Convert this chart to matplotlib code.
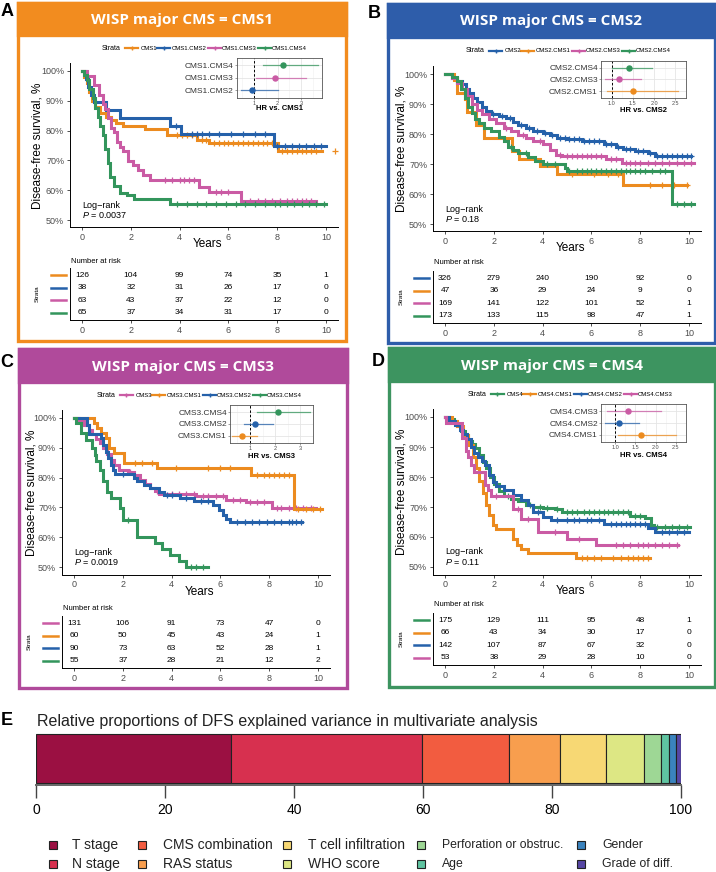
import matplotlib
matplotlib.use("Agg")
import matplotlib.pyplot as plt
from matplotlib.patches import Rectangle
from matplotlib.lines import Line2D

plt.rcParams['font.family'] = ['Liberation Sans', 'DejaVu Sans']
plt.rcParams['mathtext.fontset'] = 'custom'
plt.rcParams['mathtext.it'] = 'Liberation Sans:italic'
plt.rcParams['mathtext.rm'] = 'Liberation Sans'

# ======================= DATA =======================
risk_years = [0, 2, 4, 6, 8, 10]

# ---- Panel A: WISP major CMS = CMS1
A_strata = ['CMS1', 'CMS1.CMS2', 'CMS1.CMS3', 'CMS1.CMS4']
A_risk = [[126, 104, 99, 74, 35, 1], [38, 32, 31, 26, 17, 0],
          [63, 43, 37, 22, 12, 0], [65, 37, 34, 31, 17, 0]]
A_times = [
    [0, 0.1, 0.2, 0.3, 0.4, 0.55, 0.75, 1.0, 1.2, 1.4, 1.7, 2.6, 3.5, 4.7, 5.2, 8.05, 9.85],
    [0, 0.15, 0.25, 0.35, 0.5, 1.0, 1.55, 3.6, 4.05, 7.85, 10.0],
    [0, 0.2, 0.5, 0.7, 0.85, 0.95, 1.05, 1.2, 1.3, 1.45, 1.55, 1.7, 1.9, 2.1, 2.3, 2.5, 2.8, 4.8, 5.2, 6.5, 9.6],
    [0, 0.1, 0.2, 0.3, 0.45, 0.55, 0.65, 0.75, 0.85, 0.95, 1.05, 1.15, 1.3, 1.55, 1.85, 2.15, 3.6, 10.0],
]
A_surv = [
    [100, 98, 96, 93, 90, 88, 86, 84.5, 83.5, 82.5, 81.5, 80.5, 78.5, 77, 76, 73, 73],
    [100, 97.4, 94.7, 92.1, 89.5, 86.8, 84.2, 81.6, 78.9, 74.9, 74.9],
    [100, 98.4, 95.2, 92.1, 88.9, 87.3, 84.1, 81.0, 79.4, 76.2, 74.6, 73.0, 69.8, 68.3, 66.7, 65.1, 63.3, 61.2, 59.5, 56.3, 56.3],
    [100, 98.5, 96.9, 93.8, 90.8, 87.7, 84.6, 81.5, 78.5, 73.8, 69.2, 64.6, 61.5, 59.2, 58.5, 56.9, 55.3, 55.3],
]
A_cens = [
    [3.9, 4.1, 4.3, 4.5, 4.9, 5.1, 5.4, 5.6, 5.8, 6.0, 6.2, 6.4, 6.6, 6.8, 7.0, 7.2, 7.4, 7.6, 7.8, 8.2, 8.4, 8.6, 8.8, 9.0, 9.2, 9.4, 9.6, 10.35],
    [3.85, 4.5, 4.7, 4.9, 5.2, 5.6, 6.1, 6.6, 7.1, 7.5, 8.0, 8.3, 8.6, 8.9, 9.2, 9.5, 9.8],
    [3.4, 3.7, 4.0, 4.2, 4.4, 4.6, 5.5, 5.7, 6.0, 6.9, 7.2, 7.5, 7.8, 8.1, 8.4, 8.6, 8.8, 9.0, 9.2, 9.4],
    [3.9, 4.3, 4.7, 5.1, 5.5, 5.9, 6.3, 6.7, 7.1, 7.5, 7.9, 8.1, 8.4, 8.7, 9.0, 9.3, 9.6, 9.9],
]
A_hr_labels = ['CMS1.CMS2', 'CMS1.CMS3', 'CMS1.CMS4']
A_hr = [0.93, 1.9, 2.25]
A_hr_lo = [0.42, 1.1, 1.38]
A_hr_hi = [2.0, 3.2, 3.75]
A_p = '0.0037'

# ---- Panel B: WISP major CMS = CMS2
B_strata = ['CMS2', 'CMS2.CMS1', 'CMS2.CMS3', 'CMS2.CMS4']
B_risk = [[326, 279, 240, 190, 92, 0], [47, 36, 29, 24, 9, 0],
          [169, 141, 122, 101, 52, 1], [173, 133, 115, 98, 47, 1]]
B_times = [
    [0, 0.3, 0.5, 0.7, 0.85, 1.0, 1.15, 1.3, 1.5, 1.7, 1.9, 2.2, 2.5, 2.8, 3.0, 3.3, 3.6, 4.0, 4.3, 4.6,
     5.0, 5.6, 6.0, 6.5, 7.0, 7.3, 7.8, 8.3, 8.6, 10.1],
    [0, 0.38, 0.49, 0.8, 0.92, 1.27, 1.58, 2.73, 3.04, 3.9, 4.6, 7.3, 9.9],
    [0, 0.3, 0.5, 0.7, 0.9, 1.1, 1.3, 1.5, 1.8, 2.1, 2.4, 2.7, 3.0, 3.3, 3.6, 4.0, 4.3, 4.55, 4.8, 6.6, 7.25, 10.2],
    [0, 0.3, 0.5, 0.65, 0.8, 0.95, 1.1, 1.25, 1.4, 1.6, 1.9, 2.2, 2.4, 2.6, 2.8, 3.0, 3.4, 3.7, 4.0, 4.9,
     5.0, 9.3, 10.2],
]
B_surv = [
    [100, 98.5, 97.5, 96.5, 95, 93.5, 92, 90.5, 89, 87.5, 86.6, 86, 85.3, 84, 83, 82, 81, 80.3, 79.5, 78.8,
     78.2, 77.8, 77.5, 76.5, 75.8, 75.0, 74.3, 73.5, 72.8, 72.8],
    [100, 97.9, 93.6, 91.5, 87.2, 83.0, 78.7, 74.4, 71.6, 69.3, 66.8, 62.9, 62.9],
    [100, 98.5, 97, 95, 92.5, 90, 88, 86.5, 85, 83.5, 82, 81, 79.8, 78.5, 77.5, 76.5, 74.5, 73, 72.5, 71.5, 70.2, 70.2],
    [100, 99, 97.5, 95, 92, 89, 87, 85, 83.5, 82, 81, 79, 77.5, 75.6, 74.5, 73.5, 72.3, 71, 70, 68.6,
     67.6, 56.5, 56.5],
]
B_cens = [
    [1.95, 2.35, 2.65, 3.1, 3.45, 3.75, 4.1, 4.4, 4.7, 4.9, 5.1, 5.3, 5.5, 5.7, 5.9, 6.1, 6.3, 6.6, 6.8, 7.1,
     7.4, 7.6, 7.9, 8.1, 8.4, 8.7, 8.9, 9.1, 9.3, 9.5, 9.7, 9.9, 10.1],
    [3.7, 5.2, 6.1, 6.7, 7.1, 8.4, 8.9, 9.4, 9.9],
    [2.5, 3.2, 3.9, 4.7, 5.0, 5.2, 5.4, 5.6, 5.8, 6.0, 6.2, 6.4, 6.8, 7.0, 7.4, 7.6, 7.8, 8.0, 8.3, 8.6,
     8.9, 9.2, 9.5, 9.8, 10.1],
    [2.7, 3.3, 4.2, 4.5, 5.1, 5.4, 5.6, 5.8, 6.0, 6.2, 6.4, 6.6, 6.8, 7.0, 7.2, 7.4, 7.6, 7.8, 8.0, 8.2,
     8.5, 8.8, 9.0, 9.5, 9.8, 10.1],
]
B_hr_labels = ['CMS2.CMS1', 'CMS2.CMS3', 'CMS2.CMS4']
B_hr = [1.51, 1.18, 1.4]
B_hr_lo = [0.89, 0.84, 1.02]
B_hr_hi = [2.56, 1.69, 1.95]
B_p = '0.18'

# ---- Panel C: WISP major CMS = CMS3
C_strata = ['CMS3', 'CMS3.CMS1', 'CMS3.CMS2', 'CMS3.CMS4']
C_risk = [[131, 106, 91, 73, 47, 0], [60, 50, 45, 43, 24, 1],
          [90, 73, 63, 52, 28, 1], [55, 37, 28, 21, 12, 2]]
C_times = [
    [0, 0.2, 0.4, 0.6, 0.75, 0.9, 1.05, 1.2, 1.35, 1.5, 1.65, 1.85, 2.2, 2.45, 2.7, 2.9, 3.1, 3.3, 3.5, 5.0,
     6.25, 7.05, 8.1, 9.9],
    [0, 0.8, 0.95, 1.1, 1.3, 1.45, 1.65, 2.05, 3.4, 7.27, 9.0, 10.15],
    [0, 0.55, 0.62, 1.1, 1.2, 1.3, 1.4, 1.5, 1.6, 1.7, 2.45, 2.6, 2.85, 3.1, 3.5, 3.7, 4.35, 4.9, 5.7, 5.95,
     6.1, 6.25, 6.4, 9.35],
    [0, 0.1, 0.3, 0.5, 0.72, 0.85, 0.92, 1.06, 1.2, 1.34, 1.5, 1.88, 2.0, 2.6, 3.3, 3.6, 3.95, 4.3, 4.6, 5.5],
]
C_surv = [
    [100, 99.2, 97.6, 96.1, 94.5, 93.0, 91.6, 89.8, 88.0, 86.0, 84.3, 82.7, 81.8, 80.9, 79.2, 78.0, 76.5,
     75.6, 74.6, 73.8, 72.6, 71.7, 69.9, 69.9],
    [100, 98.3, 96.7, 95.0, 93.3, 90.0, 88.3, 85.0, 83.3, 81.0, 69.4, 69.4],
    [100, 97.8, 94.6, 93.2, 91.0, 88.5, 86.5, 84.3, 82.6, 81.3, 80.0, 78.9, 77.6, 76.4, 75.3, 74.3, 73.1,
     72.0, 70.8, 69.1, 67.4, 66.2, 65.2, 65.2],
    [100, 98.2, 95.0, 92.7, 90.0, 87.6, 85.4, 82.6, 78.7, 75.3, 73.0, 69.7, 65.8, 60.1, 57.9, 56.2, 54.2,
     51.9, 50.0, 50.0],
]
C_cens = [
    [2.3, 3.4, 4.0, 4.3, 4.6, 4.9, 5.3, 5.5, 5.8, 6.1, 6.5, 6.8, 7.2, 7.5, 7.8, 8.3, 8.5, 8.8, 9.1, 9.4, 9.7],
    [2.5, 2.8, 3.2, 4.2, 5.5, 6.0, 6.4, 7.5, 7.8, 8.0, 8.2, 8.4, 8.6, 8.8, 9.2, 9.5, 9.8, 10.1],
    [2.0, 3.8, 4.0, 4.6, 5.2, 5.5, 6.7, 7.0, 7.3, 7.6, 7.9, 8.2, 8.5, 8.8, 8.95, 9.1, 9.3],
    [2.2, 4.8, 5.0, 5.3],
]
C_hr_labels = ['CMS3.CMS1', 'CMS3.CMS2', 'CMS3.CMS4']
C_hr = [0.68, 1.2, 2.1]
C_hr_lo = [0.3, 0.76, 1.27]
C_hr_hi = [1.27, 1.92, 3.4]
C_p = '0.0019'

# ---- Panel D: WISP major CMS = CMS4
D_strata = ['CMS4', 'CMS4.CMS1', 'CMS4.CMS2', 'CMS4.CMS3']
D_risk = [[175, 129, 111, 95, 48, 1], [66, 43, 34, 30, 17, 0],
          [142, 107, 87, 67, 32, 0], [53, 38, 29, 28, 10, 0]]
D_times = [
    [0, 0.15, 0.35, 0.5, 0.65, 0.8, 0.95, 1.1, 1.25, 1.4, 1.55, 1.7, 1.85, 2.0, 2.2, 2.4, 2.7, 3.0, 3.3, 3.6,
     4.0, 4.5, 4.8, 7.6, 8.2, 8.45, 8.55, 10.05],
    [0, 0.3, 0.5, 0.72, 0.93, 1.13, 1.27, 1.41, 1.55, 1.68, 1.82, 1.96, 2.1, 2.78, 2.95, 3.1, 3.4, 5.37, 8.4],
    [0, 0.15, 0.4, 0.6, 0.75, 0.9, 1.05, 1.2, 1.35, 1.5, 1.65, 1.8, 1.95, 2.1, 2.4, 2.8, 3.1, 3.4, 3.6, 4.0,
     4.35, 6.5, 8.3, 8.6, 10.0],
    [0, 0.05, 0.7, 0.85, 0.95, 1.05, 1.2, 1.62, 1.75, 1.9, 2.78, 3.1, 3.8, 5.0, 6.2, 9.55],
]
D_surv = [
    [100, 99.4, 98.3, 97.1, 95.4, 93.7, 92.0, 90.9, 89.7, 87.4, 85.1, 82.9, 80.0, 77.7, 75.4, 73.7, 72.6,
     72.0, 70.6, 70.0, 69.7, 69.3, 68.2, 67.0, 66.5, 64.0, 63.5, 63.5],
    [100, 98.5, 97.0, 94.0, 90.7, 86.8, 82.9, 78.5, 74.5, 70.6, 67.3, 64.0, 62.6, 59.2, 57.5, 56.0, 54.6,
     53.1, 53.1],
    [100, 98.6, 97.2, 95.8, 94.4, 92.5, 90.1, 88.0, 86.8, 85.2, 84.0, 80.5, 78.2, 77.0, 75.7, 74.0, 72.3,
     70.6, 68.4, 66.7, 65.6, 64.5, 63.1, 61.7, 61.7],
    [100, 98.1, 93.0, 88.5, 86.5, 84.0, 81.6, 77.3, 75.5, 73.6, 69.2, 66.0, 61.8, 59.5, 57.3, 57.3],
]
D_cens = [
    [2.6, 3.5, 3.9, 4.2, 4.6, 5.0, 5.2, 5.4, 5.7, 5.9, 6.1, 6.3, 6.5, 6.7, 6.9, 7.1, 7.3, 7.5, 7.8, 8.0,
     8.7, 9.0, 9.3, 9.6, 9.9],
    [5.6, 5.8, 6.1, 6.4, 6.9, 7.2, 7.5, 7.7, 7.9, 8.1, 8.3],
    [3.8, 4.6, 5.0, 5.3, 5.5, 5.8, 6.0, 6.3, 6.8, 7.0, 7.2, 7.4, 7.6, 7.8, 8.0, 8.2, 8.9, 9.2, 9.5, 9.8],
    [2.1, 3.0, 3.4, 4.5, 5.5, 7.0, 7.3, 7.6, 7.9, 8.1, 8.3, 8.6, 8.9, 9.2, 9.5],
]
D_hr_labels = ['CMS4.CMS1', 'CMS4.CMS2', 'CMS4.CMS3']
D_hr = [1.64, 1.09, 1.31]
D_hr_lo = [1.08, 0.75, 0.79]
D_hr_hi = [2.5, 1.58, 2.13]
D_p = '0.11'

# ---- Panel E
E_labels = ['T stage', 'N stage', 'CMS combination', 'RAS status', 'T cell infiltration',
            'WHO score', 'Perforation or obstruc.', 'Age', 'Gender', 'Grade of diff.']
E_values = [30.3, 29.5, 13.5, 7.9, 7.1, 5.9, 2.7, 1.2, 1.2, 0.7]
E_ticks = [0, 20, 40, 60, 80, 100]

# ======================= STYLE / LAYOUT =======================
CMS_COL = {'CMS1': '#EC8B1F', 'CMS2': '#2561AA', 'CMS3': '#CA5BA4', 'CMS4': '#33955C'}
E_colors = ['#9B1042', '#D7304F', '#F25C40', '#F89E4E', '#F7D874', '#DDE784',
            '#9ED795', '#5FC4A1', '#3A83BE', '#5646A4']

W, H = 716, 872
fig = plt.figure(figsize=(W / 100, H / 100), dpi=100)


def frect(x0, y0, x1, y1):
    return [x0 / W, 1 - y1 / H, (x1 - x0) / W, (y1 - y0) / H]


def FX(x):
    return x / W


def FY(y):
    return 1 - y / H


def step_value(t, s, x):
    v = s[0]
    for ti, si in zip(t, s):
        if ti <= x:
            v = si
    return v


PANELS = [
    dict(key='A', title='WISP major CMS = CMS1', col='#F28C1F', box=(18, 3, 346, 341), bar=35,
         label=(7, 12), main=(69.8, 63.5, 338.2, 227.5), risk=(69.8, 268, 338.2, 320), leg_y=48,
         leg_x=102, inset=(237, 58, 322, 98), ixlim=(0.27, 3.9), iticks=[1, 2, 3],
         itl=['1', '2', '3'], hr_y=109, years_y=244, nar_y=261, strata_x=37, ylab_x=38,
         strata=A_strata, risk_n=A_risk, times=A_times, surv=A_surv, cens=A_cens,
         hl=A_hr_labels, hr=A_hr, lo=A_hr_lo, hi=A_hr_hi, p=A_p),
    dict(key='B', title='WISP major CMS = CMS2', col='#2E5DAA', box=(388, 4, 715, 343), bar=37,
         label=(374, 14), main=(432.8, 66.5, 701.2, 231.5), risk=(432.8, 271, 701.2, 323), leg_y=51,
         leg_x=466, inset=(601, 61, 686, 98), ixlim=(0.76, 2.63), iticks=[1.0, 1.5, 2.0, 2.5],
         itl=['1.0', '1.5', '2.0', '2.5'], hr_y=111, years_y=248, nar_y=263, strata_x=401, ylab_x=402,
         strata=B_strata, risk_n=B_risk, times=B_times, surv=B_surv, cens=B_cens,
         hl=B_hr_labels, hr=B_hr, lo=B_hr_lo, hi=B_hr_hi, p=B_p),
    dict(key='C', title='WISP major CMS = CMS3', col='#B04A9B', box=(19, 349, 347, 688), bar=382,
         label=(7, 362), main=(61.8, 410.5, 330.2, 574.5), risk=(61.8, 616, 330.2, 668), leg_y=395,
         leg_x=97, inset=(230, 405, 313, 443), ixlim=(0.21, 3.47), iticks=[1, 2, 3],
         itl=['1', '2', '3'], hr_y=456, years_y=592, nar_y=608, strata_x=29, ylab_x=32,
         strata=C_strata, risk_n=C_risk, times=C_times, surv=C_surv, cens=C_cens,
         hl=C_hr_labels, hr=C_hr, lo=C_hr_lo, hi=C_hr_hi, p=C_p),
    dict(key='D', title='WISP major CMS = CMS4', col='#3D9460', box=(389, 348, 715, 687), bar=381,
         label=(378, 361), main=(432.8, 409.5, 701.2, 574.5), risk=(432.8, 613, 701.2, 665), leg_y=394,
         leg_x=468, inset=(601, 404, 686, 442), ixlim=(0.65, 2.62), iticks=[1.0, 1.5, 2.0, 2.5],
         itl=['1.0', '1.5', '2.0', '2.5'], hr_y=455, years_y=591, nar_y=604, strata_x=401, ylab_x=401,
         strata=D_strata, risk_n=D_risk, times=D_times, surv=D_surv, cens=D_cens,
         hl=D_hr_labels, hr=D_hr, lo=D_hr_lo, hi=D_hr_hi, p=D_p),
]

GRAY = '#4D4D4D'

for P in PANELS:
    bx0, by0, bx1, by1 = P['box']
    fig.add_artist(Rectangle((FX(bx0), FY(by1)), (bx1 - bx0) / W, (by1 - by0) / H,
                             transform=fig.transFigure, facecolor='white', edgecolor=P['col'],
                             lw=2.4, zorder=-5))
    fig.add_artist(Rectangle((FX(bx0), FY(P['bar'])), (bx1 - bx0) / W, (P['bar'] - by0) / H,
                             transform=fig.transFigure, facecolor=P['col'], edgecolor=P['col'],
                             lw=2.4, zorder=-4))
    fig.text(FX((bx0 + bx1) / 2), FY((by0 + P['bar']) / 2 + 1), P['title'], color='white',
             fontsize=11, fontweight='bold', family=['Open Sans', 'DejaVu Sans'],
             ha='center', va='center')
    fig.text(FX(P['label'][0]), FY(P['label'][1]), P['key'], fontsize=13, fontweight='bold',
             ha='center', va='center')

    cols = [CMS_COL[s.split('.')[-1]] if '.' in s else CMS_COL[s] for s in P['strata']]

    # ---- legend (Strata)
    ly = FY(P['leg_y'])
    lx = P['leg_x']
    fig.text(FX(lx), ly, 'Strata', fontsize=5, ha='left', va='center')
    line_off = [23, 55, 106, 156]
    text_off = [39, 70, 120, 170]
    for i, s in enumerate(P['strata']):
        x0 = lx + line_off[i]
        fig.add_artist(Line2D([FX(x0), FX(x0 + 13)], [ly, ly], transform=fig.transFigure,
                              color=cols[i], lw=1.6))
        fig.add_artist(Line2D([FX(x0 + 6.5)], [ly], transform=fig.transFigure, color=cols[i],
                              marker='+', ms=3.5, mew=1.0, lw=0))
        fig.text(FX(lx + text_off[i]), ly, s, fontsize=4.3, ha='left', va='center')

    # ---- main KM axes
    mx0, my0, mx1, my1 = P['main']
    ax = fig.add_axes(frect(mx0, my0, mx1, my1))
    ax.patch.set_alpha(0)
    for i in range(4):
        t, s = P['times'][i], P['surv'][i]
        ax.step(t, s, where='post', color=cols[i], lw=2.2, solid_joinstyle='miter')
        cy = [step_value(t, s, c) for c in P['cens'][i]]
        ax.plot(P['cens'][i], cy, ls='none', marker='+', ms=4, mew=0.9, color=cols[i])
    ax.set_xlim(-0.5, 10.5)
    ax.set_ylim(47.5, 102.5)
    ax.set_xticks([0, 2, 4, 6, 8, 10])
    ax.set_yticks([50, 60, 70, 80, 90, 100])
    ax.set_yticklabels(['50%', '60%', '70%', '80%', '90%', '100%'])
    ax.tick_params(labelsize=6.5, labelcolor=GRAY, length=2.5, width=0.6, color='#333333', pad=1.5)
    for sp in ['top', 'right']:
        ax.spines[sp].set_visible(False)
    for sp in ['left', 'bottom']:
        ax.spines[sp].set_linewidth(0.7)
    ax.text(0, 55, 'Log\u2212rank', fontsize=6.5, ha='left', va='center')
    ax.text(0, 51.6, r'$\mathit{P}$ = ' + P['p'], fontsize=6.5, ha='left', va='center')
    fig.text(FX(P['ylab_x']), FY((my0 + my1) / 2), 'Disease-free survival, %', rotation=90,
             fontsize=8.5, ha='center', va='center')
    fig.text(FX((mx0 + mx1) / 2 + 3), FY(P['years_y']), 'Years', fontsize=8.5, ha='center', va='center')

    # ---- inset forest plot
    ix0, iy0, ix1, iy1 = P['inset']
    ai = fig.add_axes(frect(ix0, iy0, ix1, iy1))
    ai.set_facecolor('white')
    ai.set_xlim(*P['ixlim'])
    ai.set_ylim(0.4, 3.6)
    ai.set_xticks(P['iticks'])
    ai.set_xticklabels(P['itl'])
    step = P['iticks'][1] - P['iticks'][0]
    ai.set_xticks([v + step / 2 for v in [P['iticks'][0] - step] + P['iticks']], minor=True)
    ai.set_yticks([1, 2, 3])
    ai.set_yticklabels(P['hl'])
    ai.grid(True, which='major', color='#E5E5E5', lw=0.6)
    ai.grid(True, which='minor', axis='x', color='#F0F0F0', lw=0.4)
    ai.set_axisbelow(True)
    ai.tick_params(axis='x', labelsize=4, labelcolor=GRAY, length=1.5, width=0.4, pad=0.6, color='#555555')
    ai.tick_params(axis='y', labelsize=6, labelcolor='#333333', length=1.5, width=0.4, pad=0.8, color='#555555')
    ai.tick_params(which='minor', length=0)
    for sp in ai.spines.values():
        sp.set_color('#555555')
        sp.set_linewidth(0.6)
    ai.axvline(1, color='black', ls=(0, (2.5, 2)), lw=0.7)
    for r, lab in enumerate(P['hl']):
        c = CMS_COL[lab.split('.')[1]]
        ai.plot([P['lo'][r], P['hi'][r]], [r + 1, r + 1], color=c, lw=0.9, alpha=0.75)
        ai.plot([P['hr'][r]], [r + 1], marker='o', ms=3.6, color=c, lw=0)
    fig.text(FX((ix0 + ix1) / 2), FY(P['hr_y']), 'HR vs. ' + P['strata'][0], fontsize=5.5,
             fontweight='bold', ha='center', va='center')

    # ---- risk table
    rx0, ry0, rx1, ry1 = P['risk']
    ar = fig.add_axes(frect(rx0, ry0, rx1, ry1))
    ar.patch.set_alpha(0)
    ar.set_xlim(-0.5, 10.5)
    ar.set_ylim(0.4, 4.6)
    for i in range(4):
        yrow = 4 - i
        for yr, n in zip(risk_years, P['risk_n'][i]):
            ar.text(yr, yrow, str(n), fontsize=6, ha='center', va='center')
        ypx = ry0 + (4.6 - yrow) * (ry1 - ry0) / 4.2
        fig.add_artist(Line2D([FX(rx0 - 19), FX(rx0 - 4)], [FY(ypx), FY(ypx)],
                              transform=fig.transFigure, color=cols[i], lw=1.8))
    ar.set_xticks([0, 2, 4, 6, 8, 10])
    ar.set_yticks([])
    ar.tick_params(labelsize=6.5, labelcolor=GRAY, length=2.5, width=0.6, color='#333333', pad=1.5)
    for sp in ['top', 'right']:
        ar.spines[sp].set_visible(False)
    for sp in ['left', 'bottom']:
        ar.spines[sp].set_linewidth(0.7)
    fig.text(FX(rx0 + 1), FY(P['nar_y']), 'Number at risk', fontsize=5.5, ha='left', va='center')
    fig.text(FX(P['strata_x']), FY((ry0 + ry1) / 2), 'Strata', fontsize=4.5, rotation=90,
             ha='center', va='center')

# ======================= PANEL E =======================
fig.text(FX(7), FY(720), 'E', fontsize=13, fontweight='bold', ha='center', va='center')
fig.text(FX(37), FY(721), 'Relative proportions of DFS explained variance in multivariate analysis',
         fontsize=11.5, ha='left', va='center', color='#222222')
ae = fig.add_axes(frect(36, 733, 681, 785))
left = 0
for v, c in zip(E_values, E_colors):
    ae.barh(0.51, v, left=left, height=0.943, color=c, edgecolor='#222222', lw=0.8)
    left += v
ae.set_xlim(0, 100)
ae.set_ylim(0, 1)
ae.set_xticks(E_ticks)
ae.set_yticks([])
for sp in ['top', 'right', 'left']:
    ae.spines[sp].set_visible(False)
ae.spines['bottom'].set_color('#666666')
ae.spines['bottom'].set_linewidth(1.4)
ae.tick_params(axis='x', length=9, width=1.0, color='#444444', labelsize=10, pad=4)

col_sq = [53, 142, 287, 421, 581]
col_tx = [72, 163, 308, 442, 602]
row_y = [845, 864]
for k, (lab, c) in enumerate(zip(E_labels, E_colors)):
    ci, ri = k // 2, k % 2
    sq = 8.5
    fig.add_artist(Rectangle((FX(col_sq[ci] - sq / 2), FY(row_y[ri] + sq / 2)), sq / W, sq / H,
                             transform=fig.transFigure, facecolor=c, edgecolor='#222222', lw=0.8))
    fs = 10 if ci < 3 else 8.8
    fig.text(FX(col_tx[ci]), FY(row_y[ri]), lab, fontsize=fs, ha='left', va='center', color='#222222')

fig.savefig('out.png', dpi=100)
